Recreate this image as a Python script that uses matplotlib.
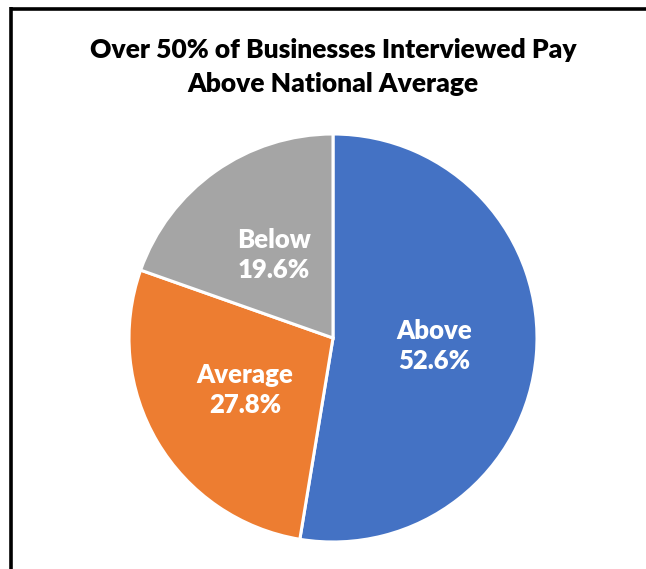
import matplotlib.pyplot as plt
import numpy as np

# survey breakdown: business pay vs national average
categories = ['Above', 'Average', 'Below']
shares = [52.6, 27.8, 19.6]
colors = ['#4472C4', '#ED7D31', '#A5A5A5']

title = 'Over 50% of Businesses Interviewed Pay\nAbove National Average'

plt.rcParams['font.family'] = ['Lato', 'DejaVu Sans']

W, H = 646, 569
fig = plt.figure(figsize=(W / 100, H / 100), dpi=100)

# pie axes placed so the circle sits below the title
cx, cy, r = 333, 569 - 338, 204
ax = fig.add_axes([(cx - r) / W, (cy - r) / H, 2 * r / W, 2 * r / H])
wedges, _ = ax.pie(shares, colors=colors, startangle=90, counterclock=False,
                   radius=1.0, wedgeprops=dict(edgecolor='white', linewidth=2.2))
ax.set_xlim(-1, 1)
ax.set_ylim(-1, 1)
ax.set_aspect('equal')
ax.axis('off')

for w, name, val in zip(wedges, categories, shares):
    ang = np.deg2rad((w.theta1 + w.theta2) / 2)
    ax.text(0.5 * np.cos(ang), 0.5 * np.sin(ang), f'{name}\n{val:.1f}%',
            ha='center', va='center', color='white', fontsize=18.5,
            fontweight='heavy', linespacing=1.3)

fig.text(333 / W, 1 - 67 / H, title, ha='center', va='center',
         fontsize=19, fontweight='heavy', color='black', linespacing=1.55)

# frame edges: top and left border lines
fig.add_artist(plt.Line2D([10.5 / W, 1.0], [1 - 8.5 / H, 1 - 8.5 / H],
                          transform=fig.transFigure, color='black', linewidth=2.6,
                          solid_capstyle='butt'))
fig.add_artist(plt.Line2D([10.5 / W, 10.5 / W], [0.0, 1 - 7 / H],
                          transform=fig.transFigure, color='black', linewidth=2.6,
                          solid_capstyle='butt'))

fig.savefig('out.png', dpi=100)
